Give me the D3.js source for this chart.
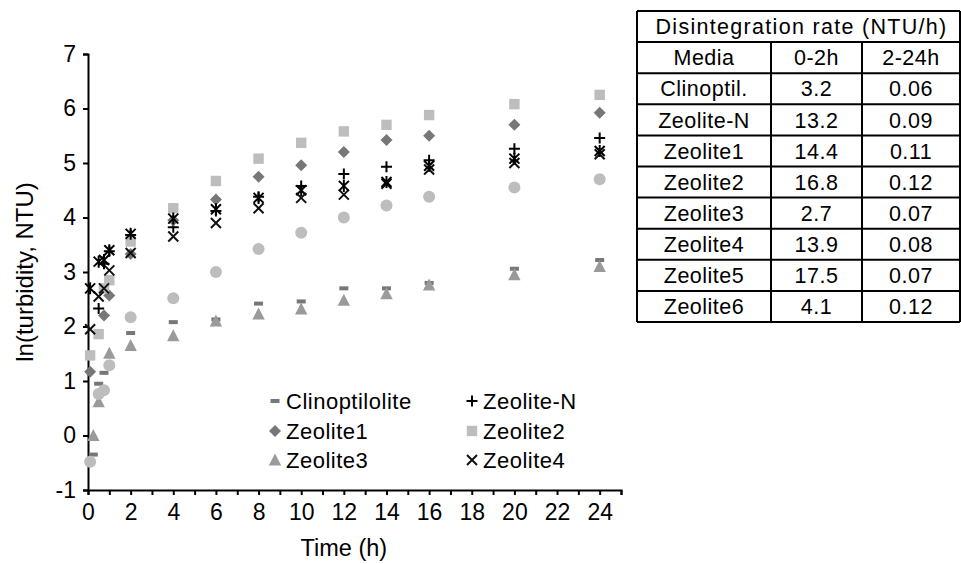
<!DOCTYPE html>
<html>
<head>
<meta charset="utf-8">
<script src="https://cdn.jsdelivr.net/npm/d3@7"></script>
<style>
  html, body { margin: 0; padding: 0; background: #fff; }
  svg { display: block; font-family: "Liberation Sans", Arial, sans-serif; }
</style>
</head>
<body>
<svg id="chart" width="961" height="564"></svg>
<script>
// ---------------- DATA ----------------
const times = [0.1, 0.25, 0.5, 0.75, 1, 2, 4, 6, 8, 10, 12, 14, 16, 20, 24];

const clinoptilolite = [null, -0.35, 0.95, 1.15, 1.32, 1.88, 2.08, 2.13, 2.42, 2.46, 2.70, 2.70, 2.80, 3.06, 3.22];
const zeoliteN       = [null, null, 2.33, 3.15, 3.38, 3.68, 3.82, 4.12, 4.38, 4.58, 4.80, 4.93, 5.05, 5.26, 5.46];
const zeolite1       = [1.17, null, null, 2.20, 2.57, 3.33, 3.95, 4.33, 4.75, 4.96, 5.20, 5.42, 5.50, 5.70, 5.92];
const zeolite2       = [1.47, null, 1.86, 2.70, 2.85, 3.56, 4.17, 4.67, 5.08, 5.37, 5.58, 5.70, 5.88, 6.08, 6.25];
const zeolite3       = [null, 0.00, 0.62, null, 1.51, 1.65, 1.83, 2.10, 2.23, 2.32, 2.48, 2.60, 2.76, 2.95, 3.10];
const zeolite4       = [1.95, null, 2.55, 2.70, 3.03, 3.35, 3.65, 3.90, 4.17, 4.36, 4.42, 4.62, 4.88, 5.00, 5.16];
const zeolite5       = [2.70, null, 3.19, 3.22, 3.40, 3.70, 3.98, 4.15, 4.36, 4.50, 4.58, 4.65, 4.95, 5.08, 5.22];
const zeolite6       = [-0.48, null, 0.76, 0.83, 1.29, 2.17, 2.52, 3.00, 3.42, 3.72, 4.00, 4.22, 4.38, 4.55, 4.70];

const seriesNames  = ["Clinoptilolite", "Zeolite-N", "Zeolite1", "Zeolite2", "Zeolite3", "Zeolite4", "Zeolite5", "Zeolite6"];
const seriesValues = [clinoptilolite, zeoliteN, zeolite1, zeolite2, zeolite3, zeolite4, zeolite5, zeolite6];
const seriesMarkers = ["dash", "plus", "diamond", "square", "triangle", "cross", "star", "circle"];
const seriesColors  = ["#777777", "#000000", "#777777", "#bdbdbd", "#9a9a9a", "#111111", "#000000", "#bdbdbd"];
const legendCount = 6; // only the first six appear in the legend

const yTicks = [-1, 0, 1, 2, 3, 4, 5, 6, 7];
const xTicks = d3.range(0, 26, 1);
const xTickLabels = [0, 2, 4, 6, 8, 10, 12, 14, 16, 18, 20, 22, 24];

const tableTitle = "Disintegration rate (NTU/h)";
const tableHeader = ["Media", "0-2h", "2-24h"];
const tableMedia = ["Clinoptil.", "Zeolite-N", "Zeolite1", "Zeolite2", "Zeolite3", "Zeolite4", "Zeolite5", "Zeolite6"];
const rate0to2 = ["3.2", "13.2", "14.4", "16.8", "2.7", "13.9", "17.5", "4.1"];
const rate2to24 = ["0.06", "0.09", "0.11", "0.12", "0.07", "0.08", "0.07", "0.12"];

// ---------------- LAYOUT ----------------
const svg = d3.select("#chart");
const x = d3.scaleLinear().domain([0, 25]).range([88, 621]);
const y = d3.scaleLinear().domain([-1, 7]).range([490, 54]);

// marker painter
function drawMarker(g, type, color) {
  switch (type) {
    case "dash":
      g.append("rect").attr("x", -4.5).attr("y", -2).attr("width", 9).attr("height", 4).attr("fill", color);
      break;
    case "plus":
      g.append("path").attr("d", "M-5.5,0H5.5M0,-5.5V5.5").attr("stroke", color).attr("stroke-width", 2).attr("fill", "none");
      break;
    case "diamond":
      g.append("path").attr("d", "M0,-6L6,0L0,6L-6,0Z").attr("fill", color);
      break;
    case "square":
      g.append("rect").attr("x", -5.2).attr("y", -5.2).attr("width", 10.4).attr("height", 10.4).attr("fill", color);
      break;
    case "triangle":
      g.append("path").attr("d", "M0,-6.5L6.2,5.5L-6.2,5.5Z").attr("fill", color);
      break;
    case "cross":
      g.append("path").attr("d", "M-5,-5L5,5M5,-5L-5,5").attr("stroke", color).attr("stroke-width", 2).attr("fill", "none");
      break;
    case "star":
      g.append("path").attr("d", "M-5,-5L5,5M5,-5L-5,5M0,-6V6").attr("stroke", color).attr("stroke-width", 2).attr("fill", "none");
      break;
    case "circle":
      g.append("circle").attr("r", 6).attr("fill", color);
      break;
  }
}

// ---------------- AXES ----------------
const yAxis = d3.axisLeft(y).tickValues(yTicks).tickSize(5).tickPadding(7).tickFormat(d => String(d));
const gy = svg.append("g").attr("transform", `translate(${x(0)},0)`).call(yAxis);

const xAxis = d3.axisBottom(x).tickValues(xTicks).tickSize(5).tickPadding(9)
  .tickFormat(d => xTickLabels.includes(d) ? String(d) : "");
const gx = svg.append("g").attr("transform", `translate(0,${y(-1)})`).call(xAxis);

[gx, gy].forEach(g => {
  g.select(".domain").attr("stroke", "#000").attr("stroke-width", 2);
  g.selectAll(".tick line").attr("stroke", "#000").attr("stroke-width", 2);
  g.selectAll(".tick text").attr("fill", "#000").style("font-size", "23px")
    .style("font-family", '"Liberation Sans", Arial, sans-serif');
});

svg.append("text").attr("x", x(12)).attr("y", 556).attr("text-anchor", "middle")
  .style("font-size", "23.5px").text("Time (h)");

svg.append("text").attr("transform", `translate(33,${y(3)}) rotate(-90)`).attr("text-anchor", "middle")
  .style("font-size", "24px").text("ln(turbidity, NTU)");

// ---------------- POINTS ----------------
seriesValues.forEach((vals, si) => {
  const pts = times.map((t, i) => ({ t, v: vals[i] })).filter(d => d.v !== null);
  const g = svg.append("g").attr("class", "series-" + si);
  pts.forEach(d => {
    const m = g.append("g").attr("transform", `translate(${x(d.t)},${y(d.v)})`);
    drawMarker(m, seriesMarkers[si], seriesColors[si]);
  });
});

// ---------------- LEGEND ----------------
const legendCols = [275, 472];
const legendRows = [401, 431, 460];
for (let i = 0; i < legendCount; i++) {
  const cx = legendCols[i % 2], cy = legendRows[Math.floor(i / 2)];
  const m = svg.append("g").attr("transform", `translate(${cx},${cy})`);
  drawMarker(m, seriesMarkers[i], seriesColors[i]);
  svg.append("text").attr("x", cx + 11).attr("y", cy).attr("dy", "0.36em")
    .style("font-size", "22px").style("letter-spacing", "0.5px").text(seriesNames[i]);
}

// ---------------- TABLE ----------------
const colEdges = [637, 771, 862, 960];
const rowScale = d3.scaleBand().domain(d3.range(10)).range([11, 322]);
const tg = svg.append("g");
const cellFont = "21.5px";
tg.append("text").attr("x", (colEdges[0] + colEdges[3]) / 2 + 3).attr("y", rowScale(0) + rowScale.bandwidth() / 2)
  .attr("dy", "0.36em").attr("text-anchor", "middle").style("font-size", cellFont).style("letter-spacing", "1.3px").text(tableTitle);
const rows = [tableHeader].concat(tableMedia.map((m, i) => [m, rate0to2[i], rate2to24[i]]));
rows.forEach((r, ri) => {
  r.forEach((c, ci) => {
    tg.append("text").attr("x", (colEdges[ci] + colEdges[ci + 1]) / 2)
      .attr("y", rowScale(ri + 1) + rowScale.bandwidth() / 2).attr("dy", "0.36em")
      .attr("text-anchor", "middle").style("font-size", cellFont).style("letter-spacing", "0.5px").text(c);
  });
});
d3.range(11).forEach(i => {
  const yy = i < 10 ? rowScale(i) : rowScale.range()[1];
  tg.append("line").attr("x1", colEdges[0]).attr("x2", colEdges[3]).attr("y1", yy).attr("y2", yy)
    .attr("stroke", "#000").attr("stroke-width", 2);
});
colEdges.forEach((cx, i) => {
  const top = (i === 0 || i === 3) ? rowScale(0) : rowScale(1);
  tg.append("line").attr("x1", cx).attr("x2", cx).attr("y1", top).attr("y2", rowScale.range()[1])
    .attr("stroke", "#000").attr("stroke-width", 2);
});
</script>
</body>
</html>
